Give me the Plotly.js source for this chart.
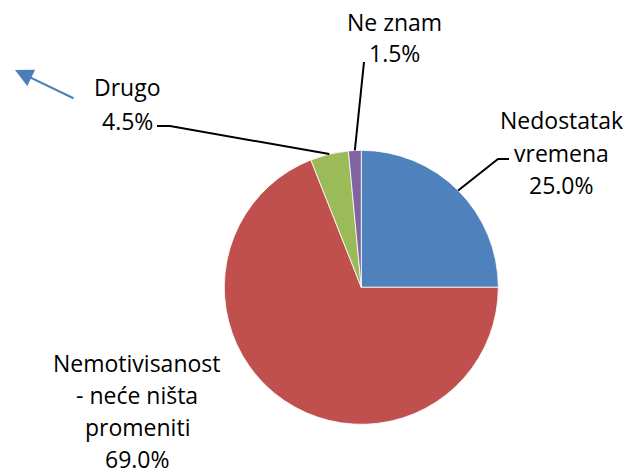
<!DOCTYPE html>
<html><head><meta charset="utf-8">
<script src="https://cdn.plot.ly/plotly-3.0.1.min.js"></script>
<style>html,body{margin:0;padding:0;background:#fff;overflow:hidden}</style>
</head><body><div id="chart" style="width:629px;height:475px"></div>
<script>
// ---- data ----
const categories = ["Nedostatak vremena", "Nemotivisanost - neće ništa promeniti", "Drugo", "Ne znam"];
const labelLines = [["Nedostatak", "vremena"], ["Nemotivisanost", "- neće ništa", "promeniti"], ["Drugo"], ["Ne znam"]];
const values = [25.0, 69.0, 4.5, 1.5];

// ---- styles / layout ----
const colors = ["#4F81BD", "#C0504D", "#9BBB59", "#8064A2"];
const W = 629, H = 475;
const CX = 361.3, CY = 287.3, R = 137;
const FONT = {family: "Open Sans, Noto Sans, sans-serif", size: 23, color: "#000"};
const labelPos = [
  {cx: 561, cy: 152.5, ls: 32.5, elbow: [[498, 159], [509, 159]]},
  {cx: 137, cy: 411, ls: 32, elbow: null},
  {cx: 127, cy: 104, ls: 34, elbow: [[170, 126], [157, 126]]},
  {cx: 394, cy: 37.5, ls: 31, elbow: [[364, 62]]}
];
const px = x => x / W;
const py = y => 1 - y / H;

const total = values.reduce((a, b) => a + b, 0);
const annotations = [];
const shapes = [];
let cum = 0;
values.forEach((v, i) => {
  const mid = (cum + v / 2) / total * 2 * Math.PI; // clockwise from 12 o'clock
  cum += v;
  const p = labelPos[i];
  const lines = labelLines[i].concat([v.toFixed(1) + "%"]);
  const n = lines.length;
  lines.forEach((t, k) => {
    annotations.push({
      xref: "paper", yref: "paper",
      x: px(p.cx), y: py(p.cy + (k - (n - 1) / 2) * p.ls),
      xanchor: "center", yanchor: "middle",
      text: t, showarrow: false, font: FONT
    });
  });
  if (p.elbow) {
    const sx = CX + R * Math.sin(mid), sy = CY - R * Math.cos(mid);
    let path = "M " + px(sx) + " " + py(sy);
    p.elbow.forEach(([ex, ey]) => { path += " L " + px(ex) + " " + py(ey); });
    shapes.push({type: "path", xref: "paper", yref: "paper", path: path,
      line: {color: "#000", width: 2}});
  }
});

// stray arrow
annotations.push({
  xref: "paper", yref: "paper", x: px(15), y: py(70),
  axref: "pixel", ayref: "pixel", ax: 60, ay: 29,
  text: "", showarrow: true, arrowhead: 2, arrowsize: 1.8, arrowwidth: 2,
  arrowcolor: "#4A7EBB"
});

const trace = {
  type: "pie",
  labels: categories,
  values: values,
  sort: false,
  direction: "clockwise",
  rotation: 0,
  textinfo: "none",
  hoverinfo: "label+percent",
  marker: {colors: colors, line: {color: "#ffffff", width: 0.8}},
  domain: {x: [px(CX - R), px(CX + R)], y: [py(CY + R), py(CY - R)]},
  showlegend: false
};

Plotly.newPlot("chart", [trace], {
  width: W, height: H,
  margin: {l: 0, r: 0, t: 0, b: 0},
  paper_bgcolor: "#fff",
  showlegend: false,
  annotations: annotations,
  shapes: shapes
}, {displayModeBar: false, staticPlot: true});
</script>
</body></html>
